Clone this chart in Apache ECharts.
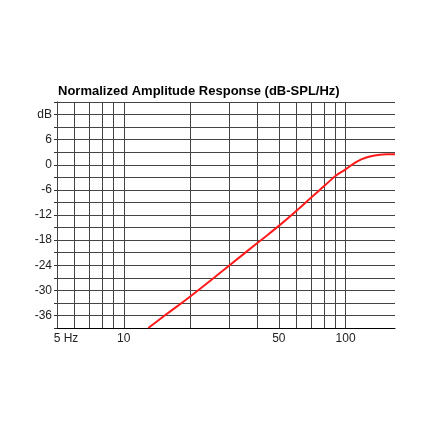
<!DOCTYPE html>
<html>
<head>
<meta charset="utf-8">
<script src="https://cdn.jsdelivr.net/npm/echarts@6/dist/echarts.min.js"></script>
<style>
  html, body { margin: 0; padding: 0; background: #fff; }
  #chart { width: 430px; height: 430px; }
</style>
</head>
<body>
<div id="chart"></div>
<script>
// response curve (Hz, dB)
const freqs = [12.9, 15.4, 20, 30, 40, 50, 60, 70, 80, 90, 100, 112, 125, 138, 154, 167];
const levels = [-39, -35.9, -31.4, -24.0, -18.7, -14.6, -11.0, -7.8, -5.1, -2.7, -1.1, 0.7, 1.8, 2.3, 2.5, 2.5];

// vertical grid lines and x tick labels
const gridFreqs = [5, 6, 7, 8, 9, 10, 20, 30, 40, 50, 60, 70, 80, 90, 100];
const xLabelFreqs = [5, 10, 50, 100];
const xLabelText = { 5: '{first|5 Hz}', 10: '10', 50: '50', 100: '100' };

const chart = echarts.init(document.getElementById('chart'));

const curve = freqs.map((f, i) => [f, levels[i]]);

chart.setOption({
    backgroundColor: '#fff',
    animation: false,
    title: {
        text: 'Normalized Amplitude Response (dB-SPL/Hz)',
        left: 53,
        top: 80,
        textStyle: {
            fontFamily: 'Liberation Sans, Arial, sans-serif',
            fontWeight: 'bold',
            fontSize: 13,
            color: '#000'
        }
    },
    grid: {
        left: 57,
        right: 35,
        top: 102,
        bottom: 102
    },
    xAxis: {
        type: 'log',
        logBase: 10,
        min: 5,
        max: 167,
        axisLine: { show: true, onZero: false, lineStyle: { color: '#000', width: 1 } },
        axisTick: { show: false },
        splitLine: { show: false },
        axisLabel: {
            customValues: xLabelFreqs,
            formatter: v => xLabelText[Math.round(v)] || '',
            margin: 5,
            fontFamily: 'Liberation Sans, Arial, sans-serif',
            fontSize: 12,
            color: '#222',
            rich: {
                first: {
                    fontFamily: 'Liberation Sans, Arial, sans-serif',
                    fontSize: 12,
                    color: '#222',
                    padding: [0, 0, 0, 18]
                }
            }
        }
    },
    yAxis: {
        type: 'value',
        min: -39,
        max: 15,
        interval: 3,
        axisLine: { show: true, lineStyle: { color: '#333', width: 1 } },
        axisTick: { show: true, length: 3, lineStyle: { color: '#333' } },
        splitLine: { show: true, lineStyle: { color: '#444', width: 1 } },
        axisLabel: {
            margin: 5,
            fontFamily: 'Liberation Sans, Arial, sans-serif',
            fontSize: 12,
            color: '#222',
            formatter: function (v) {
                if (v === 12) return 'dB';
                if (v % 6 === 0 && v >= -36 && v < 12) return String(v);
                return '';
            }
        }
    },
    series: [{
        type: 'line',
        data: curve,
        smooth: true,
        showSymbol: false,
        lineStyle: { color: '#ff1a1a', width: 2 },
        markLine: {
            silent: true,
            symbol: 'none',
            label: { show: false },
            lineStyle: { color: '#444', width: 1, type: 'solid' },
            data: gridFreqs.map(f => ({ xAxis: f }))
        },
        z: 5
    }]
});
</script>
</body>
</html>
